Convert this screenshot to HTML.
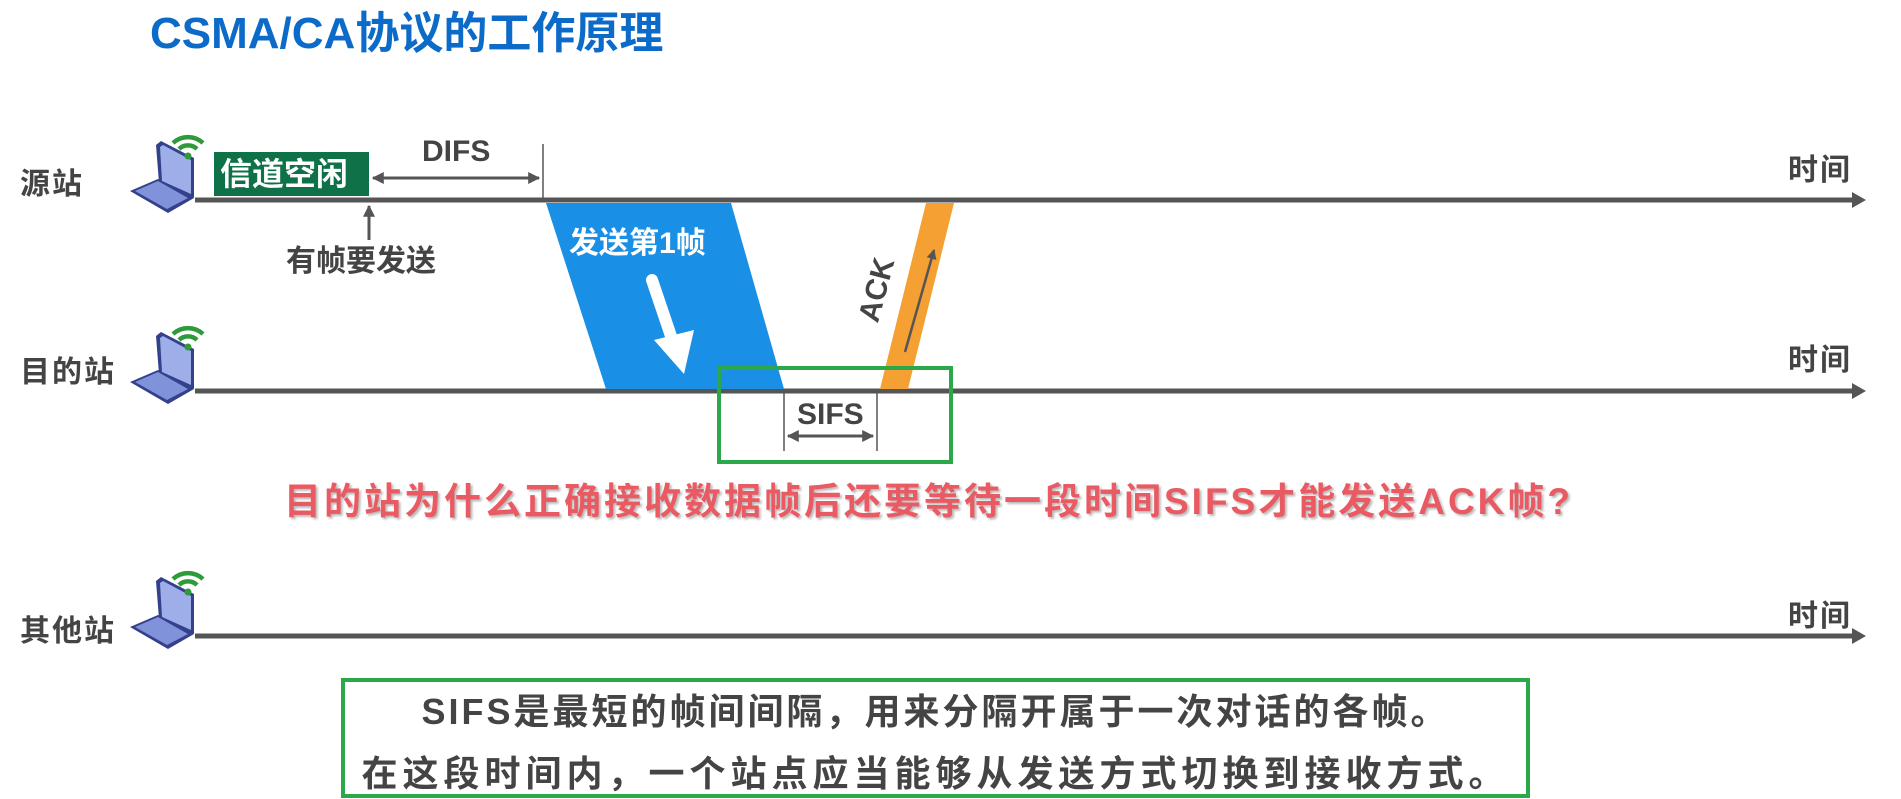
<!DOCTYPE html>
<html><head><meta charset="utf-8"><style>
body{margin:0;width:1901px;height:799px;background:#fff;overflow:hidden;position:relative;font-family:"Liberation Sans","Noto Sans CJK SC",sans-serif;font-weight:bold}
.t{position:absolute;white-space:nowrap;line-height:1}
</style></head><body>
<svg width="1901" height="799" style="position:absolute;left:0;top:0">
<defs>
<marker id="ah" viewBox="0 0 10 10" refX="9" refY="5" markerWidth="4" markerHeight="4" orient="auto-start-reverse"><path d="M0,0L10,5L0,10z" fill="#555"/></marker>
<g id="lap">
<path d="M-14,-53 L-9,-57 L24,-40 L24,0 L-11,-15z" fill="#34408c"/>
<path d="M-10,-51 L-7,-53 L21,-38 L21,-4 L-8,-17z" fill="#9eaee8"/>
<path d="M-40,-7 L-12,-19 L24,0 L-2,15z" fill="#34408c"/>
<path d="M-35,-7 L-12,-17 L18,0 L-3,11z" fill="#7f92da"/>
<path d="M3,-55 a22,22 0 0 1 30,0" stroke="#2e9a3a" stroke-width="4.5" fill="none"/>
<path d="M9,-49 a13,13 0 0 1 18,0" stroke="#2e9a3a" stroke-width="4.5" fill="none"/>
<circle cx="18" cy="-42" r="3.5" fill="#2e9a3a"/>
</g>
</defs>
<g stroke="#555" stroke-width="5">
<line x1="195" y1="200" x2="1858" y2="200"/>
<line x1="195" y1="391" x2="1858" y2="391"/>
<line x1="195" y1="636" x2="1858" y2="636"/>
</g>
<g fill="#555">
<path d="M1852,192 L1866,200 L1852,208z"/>
<path d="M1852,383 L1866,391 L1852,399z"/>
<path d="M1852,628 L1866,636 L1852,644z"/>
</g>
<use href="#lap" x="170" y="198"/>
<use href="#lap" x="170" y="389"/>
<use href="#lap" x="170" y="634"/>
<rect x="214" y="152" width="155" height="44" fill="#0f7148"/>
<line x1="543" y1="144" x2="543" y2="200" stroke="#555" stroke-width="1.5"/>
<line x1="373" y1="178" x2="539" y2="178" stroke="#555" stroke-width="3" marker-start="url(#ah)" marker-end="url(#ah)"/>
<line x1="369" y1="240" x2="369" y2="206" stroke="#555" stroke-width="3" marker-end="url(#ah)"/>
<path d="M546,203 L731,203 L784,389 L606,389z" fill="#1a8fe6"/>
<line x1="652" y1="280" x2="674" y2="345" stroke="#fff" stroke-width="12" stroke-linecap="round"/>
<path d="M654,340 L694,330 L684,374z" fill="#fff"/>
<path d="M926,203 L954,203 L908,389 L880,389z" fill="#f5a033"/>
<line x1="905" y1="352" x2="934" y2="250" stroke="#555" stroke-width="2.5" marker-end="url(#ah)"/>
<g stroke="#555" stroke-width="1.5"><line x1="784" y1="391" x2="784" y2="451"/><line x1="877" y1="391" x2="877" y2="451"/></g>
<line x1="788" y1="436" x2="873" y2="436" stroke="#555" stroke-width="3" marker-start="url(#ah)" marker-end="url(#ah)"/>
<rect x="719" y="368" width="232" height="94" fill="none" stroke="#2aa84a" stroke-width="4"/>
<rect x="343" y="680" width="1185" height="116" fill="none" stroke="#2aa84a" stroke-width="4"/>
</svg>
<div class="t" style="left:150px;top:12px;font-size:44px;color:#0c6bc8">CSMA/CA协议的工作原理</div>
<div class="t" style="left:20px;top:170px;font-size:30px;color:#444;letter-spacing:2px">源站</div>
<div class="t" style="left:20px;top:358px;font-size:30px;color:#444;letter-spacing:2px">目的站</div>
<div class="t" style="left:20px;top:617px;font-size:30px;color:#444;letter-spacing:2px">其他站</div>
<div class="t" style="left:1788px;top:156px;font-size:30px;color:#444;letter-spacing:2px">时间</div>
<div class="t" style="left:1788px;top:346px;font-size:30px;color:#444;letter-spacing:2px">时间</div>
<div class="t" style="left:1788px;top:602px;font-size:30px;color:#444;letter-spacing:2px">时间</div>
<div class="t" style="left:220px;top:158px;font-size:32px;color:#fff">信道空闲</div>
<div class="t" style="left:422px;top:137px;font-size:30px;color:#444">DIFS</div>
<div class="t" style="left:286px;top:247px;font-size:30px;color:#444">有帧要发送</div>
<div class="t" style="left:569px;top:229px;font-size:30px;color:#fff">发送第1帧</div>
<div class="t" style="left:845px;top:275px;font-size:30px;color:#444;transform:rotate(-75deg);transform-origin:center">ACK</div>
<div class="t" style="left:797px;top:400px;font-size:30px;color:#444">SIFS</div>
<div class="t" style="left:284px;top:483px;font-size:37px;color:#ea5a63;letter-spacing:3px;text-shadow:2px 2px 2px #bbb">目的站为什么正确接收数据帧后还要等待一段时间SIFS才能发送ACK帧?</div>
<div class="t" style="left:343px;width:1185px;text-align:center;top:694px;font-size:36px;color:#444;letter-spacing:3px">SIFS是最短的帧间间隔，用来分隔开属于一次对话的各帧。</div>
<div class="t" style="left:343px;width:1185px;text-align:center;top:756px;font-size:36px;color:#444;letter-spacing:5px">在这段时间内，一个站点应当能够从发送方式切换到接收方式。</div>
</body></html>
